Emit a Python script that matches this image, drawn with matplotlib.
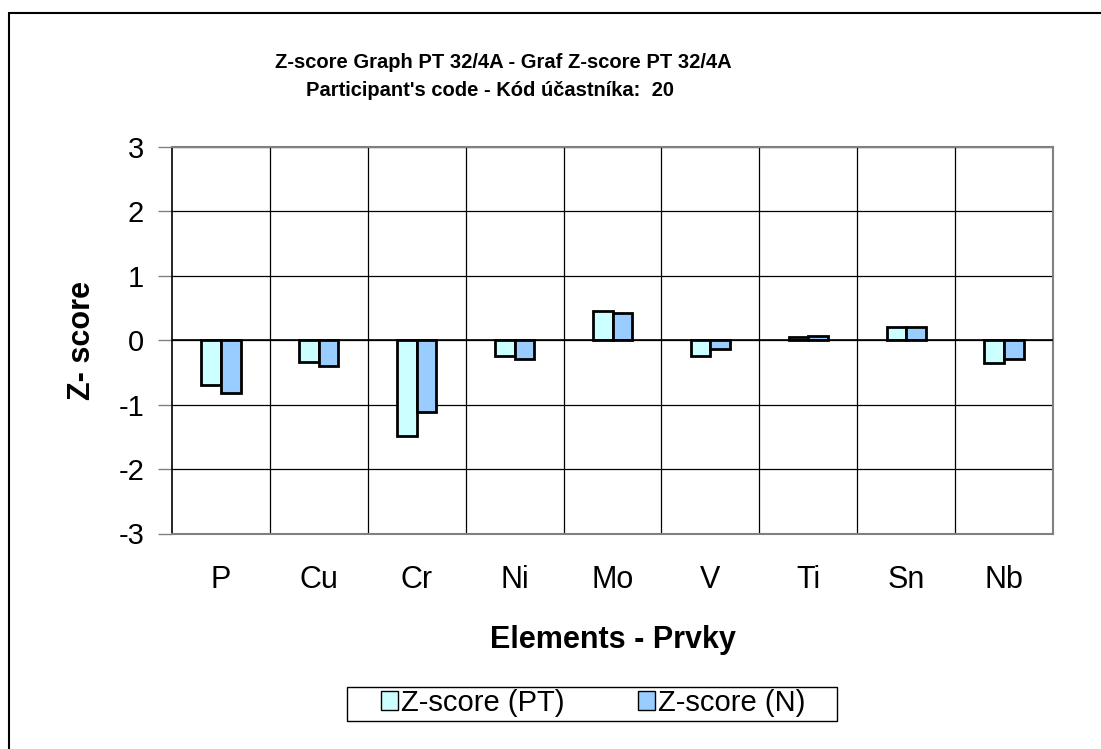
import numpy as np
import matplotlib.pyplot as plt
from matplotlib.patches import Rectangle

plt.rcParams['font.family'] = ['Liberation Sans', 'DejaVu Sans']
plt.rcParams['axes.unicode_minus'] = False

elements = ["P", "Cu", "Cr", "Ni", "Mo", "V", "Ti", "Sn", "Nb"]
z_pt = [-0.69, -0.34, -1.49, -0.24, 0.46, -0.25, 0.05, 0.20, -0.36]
z_n = [-0.82, -0.40, -1.11, -0.29, 0.43, -0.13, 0.06, 0.20, -0.29]
y_ticks = [-3, -2, -1, 0, 1, 2, 3]

fig = plt.figure(figsize=(11.01, 7.49), dpi=100)
ax = fig.add_axes([172/1101, 1-533.5/749, 881/1101, 386.5/749])

x = np.arange(len(elements))
w = 0.2
ax.bar(x - w/2, z_pt, w, color="#CCFFFF", edgecolor="black", linewidth=2,
       label="Z-score (PT)", zorder=3)
ax.bar(x + w/2, z_n, w, color="#99CCFF", edgecolor="black", linewidth=2,
       label="Z-score (N)", zorder=3)

ax.set_xlim(-0.5, len(elements) - 0.5)
ax.set_ylim(-3, 3)
ax.set_yticks(y_ticks)
ax.set_xticks(x)
ax.set_xticklabels(elements, fontsize=22)
ax.set_xticks(x[:-1] + 0.5, minor=True)
ax.tick_params(axis="x", which="both", length=0, pad=23)
ax.tick_params(axis="y", labelsize=21, length=10, width=1, color="#808080", pad=10)

ax.grid(True, axis="y", color="black", linewidth=0.9, zorder=1)
ax.grid(True, axis="x", which="minor", color="black", linewidth=0.9, zorder=1)
ax.grid(False, axis="x", which="major")
ax.axhline(0, color="black", linewidth=1.2, zorder=4)

for side in ["top", "right", "bottom"]:
    ax.spines[side].set_color("#808080")
    ax.spines[side].set_linewidth(1.5)
ax.spines["left"].set_color("black")
ax.spines["left"].set_linewidth(1.2)

fig.text(82/1101, 1-340/749, "Z- score", rotation=90, fontsize=22,
         fontweight="bold", ha="center", va="center")
fig.text(613/1101, 1-640/749, "Elements - Prvky", fontsize=22,
         fontweight="bold", ha="center", va="center")

fig.text(503/1101, 1-62/749, "Z-score Graph PT 32/4A - Graf Z-score PT 32/4A",
         fontsize=14.5, fontweight="bold", ha="center", va="center")
fig.text(490/1101, 1-91/749, "Participant's code - Kód účastníka:  20",
         fontsize=14.5, fontweight="bold", ha="center", va="center")

# legend without its own frame; box drawn separately to get the wide padding
leg = fig.legend(loc="center", bbox_to_anchor=(593/1101, 1-703/749), ncol=2,
                 fontsize=21, frameon=False,
                 handlelength=0.6, handleheight=0.6, handletextpad=0.1,
                 columnspacing=2.5, borderpad=0, borderaxespad=0)
for h in leg.legend_handles:
    h.set_linewidth(1.0)
fig.patches.append(Rectangle((347/1101, 1-721/749), 490/1101, 34/749,
                             transform=fig.transFigure, fill=False,
                             edgecolor="black", linewidth=1.0))

fig.patches.append(Rectangle((8.5/1101, -0.1), 1.2, 1.1 - 13.5/749,
                             transform=fig.transFigure, fill=False,
                             edgecolor="black", linewidth=1.5))

fig.savefig("out.png", dpi=100)
